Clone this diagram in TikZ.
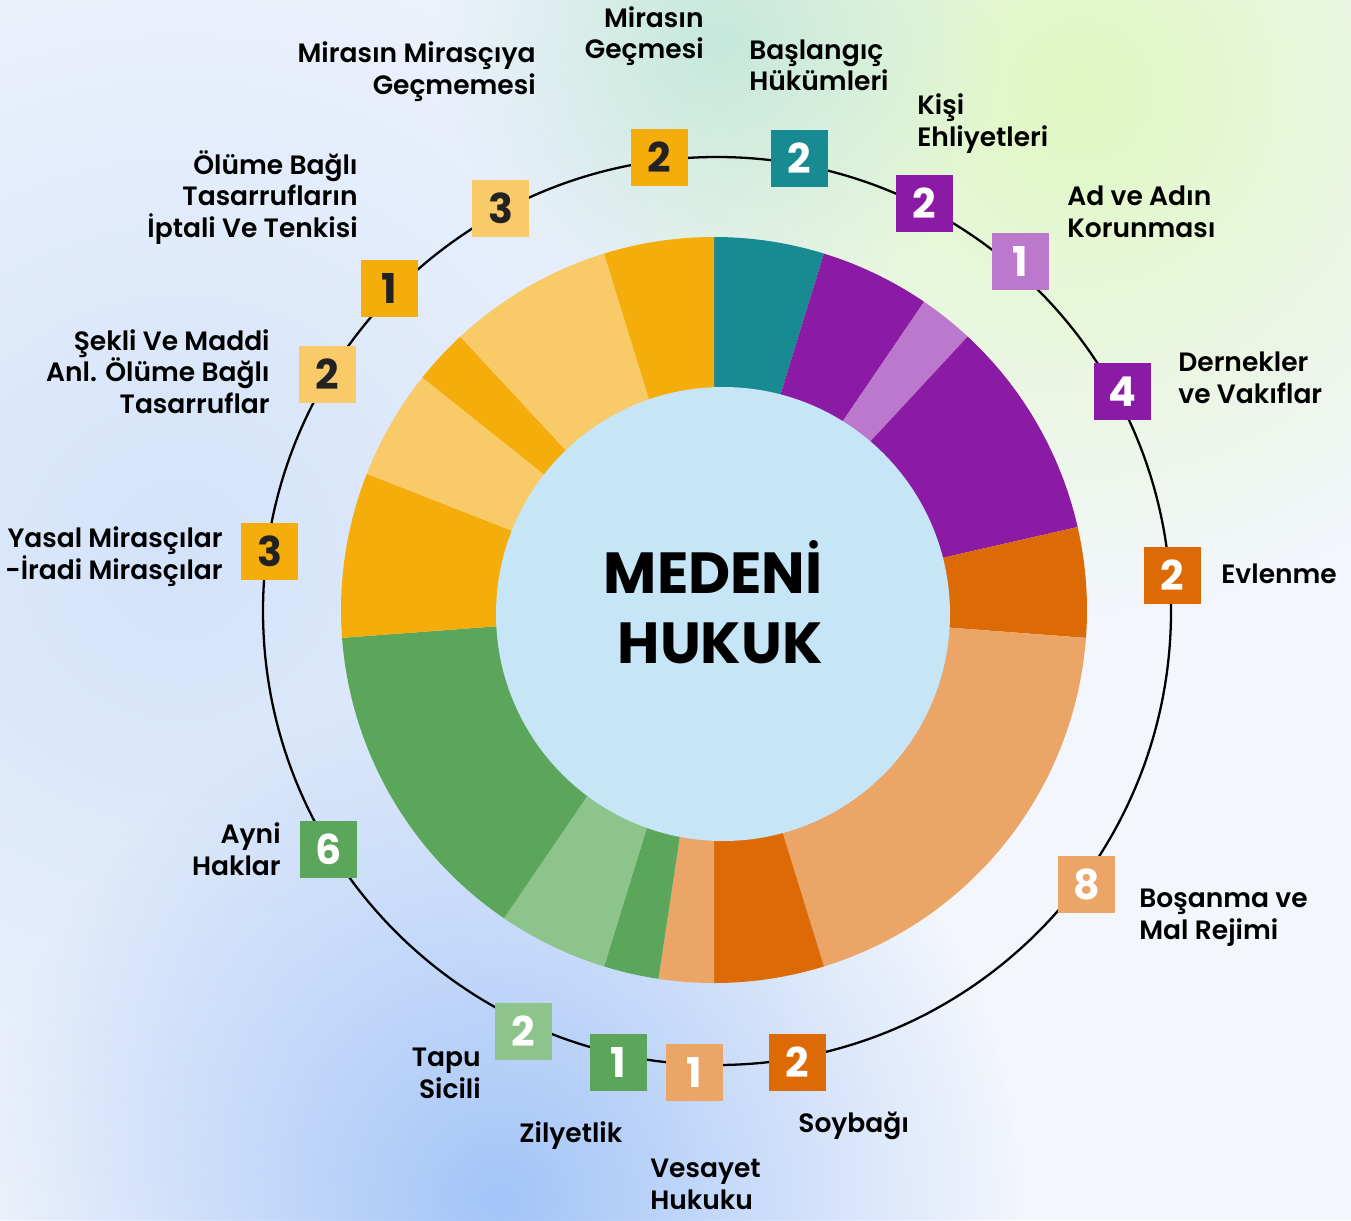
\documentclass[tikz,border=0pt]{standalone}
\usepackage{fontspec}
\setmainfont{Poppins}
\newfontfamily\lblfam{Poppins SemiBold}
\newfontfamily\boldfam{Poppins Bold}
\usepackage{tikz}
\usetikzlibrary{fadings}
\definecolor{c_teal}{HTML}{178A92}
\definecolor{c_purple}{HTML}{8B1BA5}
\definecolor{c_lpurple}{HTML}{BC78CC}
\definecolor{c_dorange}{HTML}{DD6B05}
\definecolor{c_peach}{HTML}{EAA567}
\definecolor{c_green}{HTML}{5BA65B}
\definecolor{c_lgreen}{HTML}{8DC48B}
\definecolor{c_amber}{HTML}{F5AD0B}
\definecolor{c_yellow}{HTML}{F9CB68}
\definecolor{c_num}{HTML}{222222}
\definecolor{c_hole}{HTML}{C6E5F7}
\definecolor{bg_base}{HTML}{F3F6FC}
\definecolor{bg_blue}{HTML}{A3C4F8}
\definecolor{bg_lblue}{HTML}{D3E3FA}
\definecolor{bg_green}{HTML}{E0F8C2}
\definecolor{bg_mint}{HTML}{C6E8DC}
\tikzfading[name=blob, inner color=transparent!0, outer color=transparent!100]
\newcommand\lblfont{\lblfam\fontsize{15.1pt}{18pt}\selectfont}
\newcommand\numfont{\boldfam\fontsize{23.4pt}{28pt}\selectfont}
\newcommand\ttlfont{\boldfam\fontsize{33pt}{39.7pt}\selectfont}
\tikzset{
  numbox/.style = {rectangle, inner sep=0pt, minimum size=1.14cm,
    text=white, font=\numfont},
  box_t/.style = {numbox, fill=c_teal},
  box_p/.style = {numbox, fill=c_purple},
  box_lp/.style = {numbox, fill=c_lpurple},
  box_do/.style = {numbox, fill=c_dorange},
  box_pe/.style = {numbox, fill=c_peach},
  box_g/.style = {numbox, fill=c_green},
  box_lg/.style = {numbox, fill=c_lgreen},
  box_a/.style = {numbox, fill=c_amber, text=c_num},% koyu rakam
  box_y/.style = {numbox, fill=c_yellow, text=c_num},% koyu rakam
  lbl_l/.style = {inner sep=0pt, font=\lblfont, align=left, anchor=base west},
  lbl_r/.style = {inner sep=0pt, font=\lblfont, align=right, anchor=base east},
}

\begin{document}
\begin{tikzpicture}[x=0.02cm, y=-0.02cm]
  \useasboundingbox (0,0) rectangle (1351,1220);

  % background
  \fill[bg_base] (0,0) rectangle (1351,1220);
  \begin{scope}
    \clip (0,0) rectangle (1351,1220);
    \fill[bg_lblue, path fading=blob] (180,560) circle (760);
    \fill[bg_blue, path fading=blob] (500,1200) circle (520);
    \fill[bg_green, path fading=blob] (1080,90) circle (520);
    \fill[bg_mint, path fading=blob] (720,40) circle (280);
  \end{scope}

  % outer ring
  \draw[line width=1.3pt] (717,611) circle (454);

  % donut (42 units, clockwise from top)
  \foreach \from/\to/\col in {0/2/c_teal, 2/4/c_purple, 4/5/c_lpurple,
      5/9/c_purple, 9/11/c_dorange, 11/19/c_peach, 19/21/c_dorange,
      21/22/c_peach, 22/23/c_green, 23/25/c_lgreen, 25/31/c_green,
      31/34/c_amber, 34/36/c_yellow, 36/37/c_amber, 37/40/c_yellow,
      40/42/c_amber}
    \fill[\col] (714,610) -- ++({-90+\from*360/42}:373)
      arc[start angle={-90+\from*360/42}, end angle={-90+\to*360/42}, radius=373]
      -- cycle;
  \fill[c_hole] (723,614) circle (227);
  \node[inner sep=0pt, font=\ttlfont, align=right, anchor=base east] (title)
    at (823,663) {MEDENİ\\HUKUK};

  % number boxes
  \node[box_t] (b1) at (799.5,158.5) {2};
  \node[box_p] (b2) at (924.5,203.5) {2};
  \node[box_lp] (b3) at (1020.5,261.5) {1};
  \node[box_p] (b4) at (1122.5,391.5) {4};
  \node[box_do] (b5) at (1172.5,575.5) {2};
  \node[box_pe] (b6) at (1086.5,884.5) {8};
  \node[box_do] (b7) at (797.5,1062.5) {2};
  \node[box_pe] (b8) at (694.5,1072.5) {1};
  \node[box_g] (b9) at (618.5,1062.5) {1};
  \node[box_lg] (b10) at (523.5,1031.5) {2};
  \node[box_g] (b11) at (328.5,849.5) {6};
  \node[box_a] (b12) at (269.5,551) {3};
  \node[box_y] (b13) at (327.5,374.5) {2};
  \node[box_a] (b14) at (389.5,288.5) {1};
  \node[box_y] (b15) at (500.5,208.5) {3};
  \node[box_a] (b16) at (659.5,157.5) {2};

  % labels right (base = last line)
  \node[lbl_l] (l1) at (749,91) {Başlangıç\\Hükümleri};
  \node[lbl_l] (l2) at (917,146) {Kişi\\Ehliyetleri};
  \node[lbl_l] (l3) at (1067,237) {Ad ve Adın\\Korunması};
  \node[lbl_l] (l4) at (1178,403) {Dernekler\\ve Vakıflar};
  \node[lbl_l] (l5) at (1221,583) {Evlenme};
  \node[lbl_l] (l6) at (1139,939) {Boşanma ve\\Mal Rejimi};
  \node[lbl_l] (l7) at (798,1132) {Soybağı};
  \node[lbl_l] (l8) at (650,1209) {Vesayet\\Hukuku};
  \node[lbl_l] (l9) at (519,1142) {Zilyetlik};
  % labels left
  \node[lbl_r] (l10) at (481,1098) {Tapu\\Sicili};
  \node[lbl_r] (l11) at (281,875) {Ayni\\Haklar};
  \node[lbl_r] (l12) at (223,579) {Yasal Mirasçılar\\-İradi Mirasçılar};
  \node[lbl_r] (l13) at (270,413.5) {Şekli Ve Maddi\\Anl. Ölüme Bağlı\\Tasarruflar};
  \node[lbl_r] (l14) at (358,237.5) {Ölüme Bağlı\\Tasarrufların\\İptali Ve Tenkisi};
  \node[lbl_r] (l15) at (536,94) {Mirasın Mirasçıya\\Geçmemesi};
  \node[lbl_r] (l16) at (704,59) {Mirasın\\Geçmesi};
\end{tikzpicture}
\end{document}
